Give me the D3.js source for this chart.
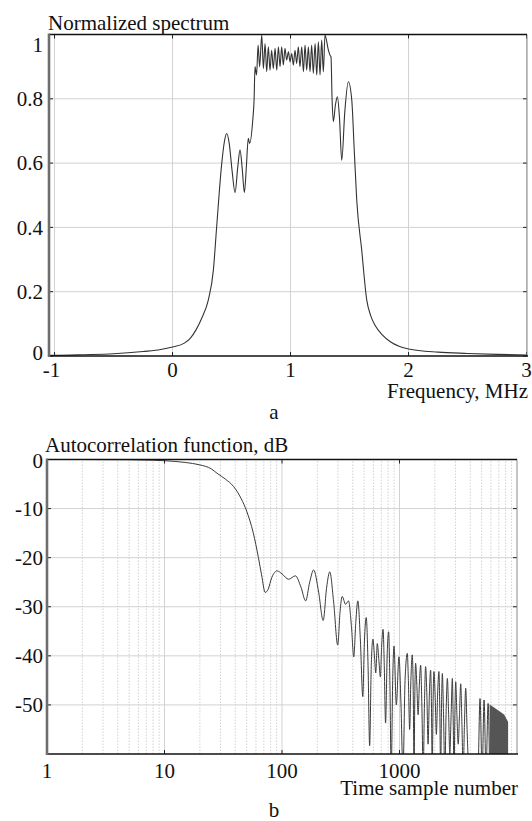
<!DOCTYPE html>
<html>
<head>
<meta charset="utf-8">
<script src="https://cdn.jsdelivr.net/npm/d3@7"></script>
<style>
  body { margin: 0; background: #fff; }
</style>
</head>
<body>
<svg id="chart" width="532" height="821" font-family="'Liberation Serif', 'Times New Roman', Times, serif" font-size="21" fill="#111"></svg>
<script>
// (a) normalized spectrum
var spectrumFreq = [-1.047, -1, -0.75, -0.5, -0.25, -0.1, 0, 0.1, 0.15, 0.2, 0.25, 0.303, 0.346, 0.374, 0.417, 0.44, 0.459, 0.48, 0.505, 0.53,
	0.552, 0.572, 0.59, 0.609, 0.625, 0.642, 0.653, 0.68, 0.691, 0.699, 0.712, 0.725, 0.738,
	0.756, 0.770, 0.784, 0.798, 0.812, 0.826, 0.840, 0.854, 0.869, 0.883, 0.897, 0.911, 0.925, 0.939, 0.953, 0.967,
	0.982, 0.996, 1.010, 1.024, 1.038, 1.052, 1.066, 1.080, 1.095, 1.109, 1.123, 1.137, 1.151, 1.165, 1.179, 1.193,
	1.208, 1.222, 1.236, 1.250, 1.264, 1.278, 1.292, 1.321, 1.335, 1.343, 1.352, 1.363, 1.38, 1.397, 1.415, 1.434,
	1.46, 1.49, 1.519, 1.54, 1.561, 1.603, 1.646, 1.68, 1.716, 1.78, 1.843, 1.92, 2, 2.25, 2.5, 2.75, 3.004];
var spectrumValue = [0.002, 0.002, 0.004, 0.007, 0.014, 0.02, 0.028, 0.04, 0.055, 0.082, 0.12, 0.174, 0.267, 0.402, 0.599, 0.668, 0.692, 0.662, 0.575, 0.508,
	0.585, 0.641, 0.585, 0.508, 0.585, 0.677, 0.661, 0.734, 0.796, 0.9, 0.874, 0.967, 0.9,
	0.998, 0.894, 0.972, 0.884, 0.962, 0.889, 0.951, 0.894, 0.957, 0.889, 0.962, 0.900, 0.962, 0.905, 0.957, 0.920,
	0.946, 0.915, 0.941, 0.905, 0.951, 0.910, 0.962, 0.900, 0.962, 0.884, 0.967, 0.889, 0.962, 0.884, 0.967, 0.879,
	0.972, 0.874, 0.977, 0.874, 0.983, 0.884, 0.998, 0.951, 0.935, 0.93, 0.8, 0.729, 0.78, 0.806, 0.74, 0.609,
	0.76, 0.853, 0.796, 0.64, 0.485, 0.33, 0.174, 0.125, 0.096, 0.065, 0.045, 0.03, 0.022, 0.012, 0.008, 0.005, 0.003];
var freqTicks = [-1, 0, 1, 2, 3];
var levelTicks = [0, 0.2, 0.4, 0.6, 0.8, 1];
var levelLabels = ['0', '0.2', '0.4', '0.6', '0.8', '1'];

// (b) autocorrelation function, dB
var acfLag = [1, 2, 3, 5, 8, 10, 15, 20, 25, 28, 33, 38.7, 45, 50, 57, 63, 67, 72, 76, 82, 91, 100, 114, 130, 145, 159, 172, 186,
	205, 224, 240, 255, 275, 298, 312, 325, 348, 368, 390, 408, 425, 442, 465, 487, 503, 521, 540, 557, 575, 594, 612, 628,
	647, 668, 688, 705, 725, 742, 761, 785, 808, 828, 850, 875, 898, 940, 989, 1030, 1070, 1115, 1165, 1190, 1220, 1250,
	1284, 1310, 1330, 1350, 1371, 1405, 1440, 1475, 1513, 1550, 1590, 1630, 1668, 1710, 1750, 1795, 1840, 1870, 1900, 1930,
	1964, 2010, 2060, 2110, 2166, 2200, 2240, 2280, 2315, 2370, 2430, 2490, 2554, 2620, 2680, 2750, 2818, 2860, 2910, 2960,
	3008, 3080, 3160, 3240, 3318, 3400, 3480, 3570, 3660, 3760, 3900, 4300, 4650, 4845, 5050, 5246, 5450, 5675, 5850];
var acfDb = [0, 0, -0.02, -0.05, -0.15, -0.25, -0.6, -1.1, -1.9, -2.8, -4, -5.5, -8, -10.5, -15, -20, -23.5, -27.1, -26.5, -24, -22.7, -23.3, -24.4, -23.7, -26, -28.8, -25, -22.5,
	-27, -32.8, -26, -22.9, -29, -37.8, -31, -27.9, -29.5, -28.8, -34, -40.2, -33, -28.8, -37, -48.3, -37, -32.2, -42, -58.3, -42, -36.6, -40, -43.5,
	-37.5, -41, -44.3, -38, -34.6, -42, -53.7, -40, -35.1, -45, -64, -45, -38, -50, -40.2, -50, -64, -45, -39.5, -45, -55, -45,
	-39.8, -48, -64, -48, -41.5, -46, -52, -46, -41.9, -50, -64, -50, -42.2, -48, -58, -48, -42.9, -50, -64, -50,
	-43.2, -48, -56, -48, -43.2, -50, -64, -50, -43.6, -52, -64, -52, -44.6, -52, -60, -52, -44.6, -52, -64, -52,
	-45.3, -52, -58, -52, -45.7, -54, -64, -54, -46.6, -55, -64, -66, -64, -48.7, -64, -49, -64, -49.7, -64];
// the densely oscillating tail, drawn by its upper envelope
var bandLag = [5850, 6300, 6800, 7300, 7800, 8400];
var bandTop = [-49.9, -50.4, -51, -51.5, -52, -53.5];
var lagTicks = [1, 10, 100, 1000];
var dbTicks = [0, -10, -20, -30, -40, -50];

var svg = d3.select('#chart');
var gridColor = '#d2d2d2';

var xA = d3.scaleLinear().domain([-1.047, 3.004]).range([49, 527]),
	yA = d3.scaleLinear().domain([0, 1]).range([356, 34.5]);
var xB = d3.scaleLog().domain([1, 10000]).range([47, 517]),
	yB = d3.scaleLinear().domain([-60, 0]).range([754, 459.5]);

// horizontal grid lines at y values
function hLines(g, x, y, values, dash) {
	g.selectAll(null).data(values).enter().append('line')
		.attr('x1', x.range()[0]).attr('x2', x.range()[1])
		.attr('y1', function (d) { return y(d); })
		.attr('y2', function (d) { return y(d); })
		.attr('stroke', gridColor).attr('stroke-width', 1)
		.attr('stroke-dasharray', dash || null);
}

// vertical grid lines at x values
function vLines(g, x, y, values, dash) {
	g.selectAll(null).data(values).enter().append('line')
		.attr('x1', function (d) { return x(d); })
		.attr('x2', function (d) { return x(d); })
		.attr('y1', y.range()[0]).attr('y2', y.range()[1])
		.attr('stroke', gridColor).attr('stroke-width', 1)
		.attr('stroke-dasharray', dash || null);
}

// box with inward ticks, Matlab style
function frame(g, x, y, xt, yt) {
	var x0 = x.range()[0], x1 = x.range()[1],
		y0 = y.range()[0], y1 = y.range()[1];

	g.selectAll(null).data(yt).enter().append('path')
		.attr('d', function (d) {
			return 'M' + x0 + ',' + y(d) + 'h4M' + x1 + ',' + y(d) + 'h-4';
		})
		.attr('stroke', '#222').attr('stroke-width', 1);
	g.selectAll(null).data(xt).enter().append('path')
		.attr('d', function (d) {
			return 'M' + x(d) + ',' + y0 + 'v-4M' + x(d) + ',' + y1 + 'v4';
		})
		.attr('stroke', '#222').attr('stroke-width', 1);

	g.append('line').attr('x1', x1).attr('x2', x1).attr('y1', y0).attr('y2', y1)
		.attr('stroke', '#8a8a8a').attr('stroke-width', 1);
	g.append('line').attr('x1', x0).attr('x2', x1).attr('y1', y1).attr('y2', y1)
		.attr('stroke', '#111').attr('stroke-width', 1.6);
	g.append('line').attr('x1', x0).attr('x2', x1 + 1).attr('y1', y0).attr('y2', y0)
		.attr('stroke', '#111').attr('stroke-width', 1.6);
	g.append('line').attr('x1', x0).attr('x2', x0).attr('y1', y0 + 1).attr('y2', y1 - 1)
		.attr('stroke', '#6e6e6e').attr('stroke-width', 2.6);
}

function clip(id, x, y) {
	svg.append('clipPath').attr('id', id).append('rect')
		.attr('x', x.range()[0]).attr('y', y.range()[1])
		.attr('width', x.range()[1] - x.range()[0])
		.attr('height', y.range()[0] - y.range()[1]);
}

// ---- panel a ----
var gA = svg.append('g');
vLines(gA, xA, yA, freqTicks);
hLines(gA, xA, yA, levelTicks.slice(1));
clip('clipA', xA, yA);

var spectrum = spectrumFreq.map(function (f, i) { return [f, spectrumValue[i]]; });
gA.append('path')
	.datum(spectrum)
	.attr('clip-path', 'url(#clipA)')
	.attr('fill', 'none')
	.attr('stroke', '#333')
	.attr('stroke-width', 1.1)
	.attr('d', d3.line()
		.x(function (d) { return xA(d[0]); })
		.y(function (d) { return yA(d[1]); })
		.curve(d3.curveMonotoneX));

frame(gA, xA, yA, freqTicks, levelTicks);

gA.selectAll(null).data(levelTicks).enter().append('text')
	.attr('x', 43)
	.attr('y', function (d) { return yA(d) + (d === 1 ? 10 : d === 0 ? -3 : 0); })
	.attr('dy', '0.35em')
	.attr('text-anchor', 'end')
	.text(function (d, i) { return levelLabels[i]; });

gA.selectAll(null).data(freqTicks).enter().append('text')
	.attr('x', function (d) { return xA(d) + (d < 0 ? -3 : 0); })
	.attr('y', 377)
	.attr('text-anchor', 'middle')
	.text(function (d) { return d; });

gA.append('text').attr('x', 48).attr('y', 29.5).text('Normalized spectrum');
gA.append('text').attr('x', 528).attr('y', 397.5).attr('text-anchor', 'end').text('Frequency, MHz');
gA.append('text').attr('x', 274).attr('y', 418.5).attr('text-anchor', 'middle').text('a');

// ---- panel b ----
var gB = svg.append('g');
var minor = xB.ticks().filter(function (d) {
	return Math.abs(Math.log10(d) - Math.round(Math.log10(d))) > 1e-6;
});
vLines(gB, xB, yB, minor, '1.5,1.5');
vLines(gB, xB, yB, [10, 100, 1000]);
hLines(gB, xB, yB, dbTicks.slice(1));
clip('clipB', xB, yB);

var acf = acfLag.map(function (n, i) { return [n, acfDb[i]]; });
gB.append('path')
	.datum(acf)
	.attr('clip-path', 'url(#clipB)')
	.attr('fill', 'none')
	.attr('stroke', '#3a3a3a')
	.attr('stroke-width', 1)
	.attr('d', d3.line()
		.x(function (d) { return xB(d[0]); })
		.y(function (d) { return yB(d[1]); })
		.curve(d3.curveMonotoneX));

var band = bandLag.map(function (n, i) { return [n, bandTop[i]]; });
gB.append('path')
	.datum(band)
	.attr('clip-path', 'url(#clipB)')
	.attr('fill', '#555')
	.attr('d', d3.area()
		.x(function (d) { return xB(d[0]); })
		.y0(yB(-64))
		.y1(function (d) { return yB(d[1]); }));

frame(gB, xB, yB, lagTicks, dbTicks);

gB.selectAll(null).data(dbTicks).enter().append('text')
	.attr('x', 43)
	.attr('y', function (d) { return yB(d) + (d === 0 ? 1.5 : 0); })
	.attr('dy', '0.35em')
	.attr('text-anchor', 'end')
	.text(function (d) { return d; });

gB.selectAll(null).data(lagTicks).enter().append('text')
	.attr('x', function (d) { return xB(d); })
	.attr('y', 778)
	.attr('text-anchor', 'middle')
	.text(function (d) { return d; });

gB.append('text').attr('x', 45).attr('y', 452).text('Autocorrelation function, dB');
gB.append('text').attr('x', 518).attr('y', 795).attr('text-anchor', 'end').text('Time sample number');
gB.append('text').attr('x', 274).attr('y', 816.5).attr('text-anchor', 'middle').text('b');
</script>
</body>
</html>
